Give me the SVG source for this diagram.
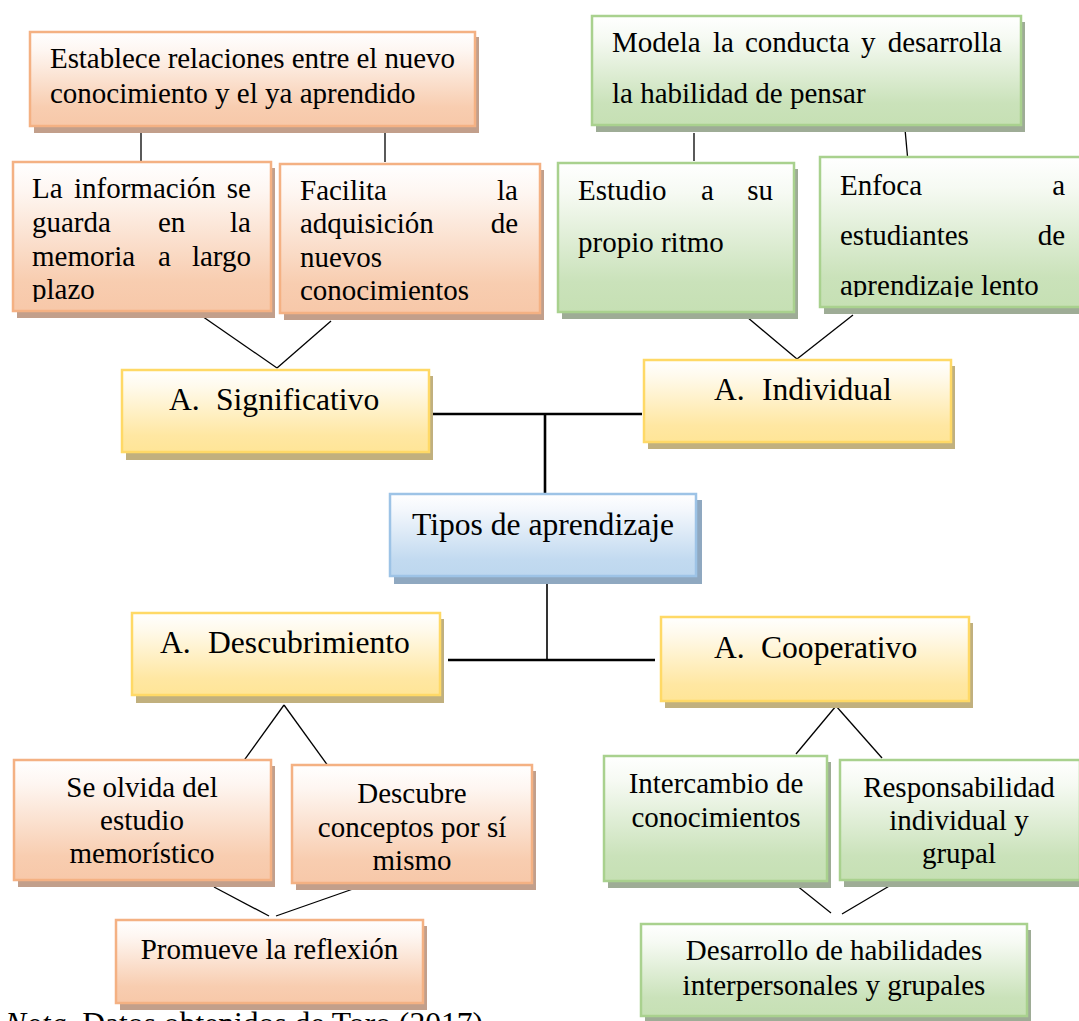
<svg xmlns="http://www.w3.org/2000/svg" width="1079" height="1021" viewBox="0 0 1079 1021">
<defs>
<linearGradient id="gOr" x1="0" y1="0" x2="0" y2="1"><stop offset="0" stop-color="#FFFFFF"/><stop offset="0.2" stop-color="#FEF6F1"/><stop offset="0.8" stop-color="#F8CDB0"/><stop offset="1" stop-color="#F7C8A9"/></linearGradient>
<linearGradient id="gGr" x1="0" y1="0" x2="0" y2="1"><stop offset="0" stop-color="#FFFFFF"/><stop offset="0.2" stop-color="#F6FAF3"/><stop offset="0.8" stop-color="#CAE2BA"/><stop offset="1" stop-color="#C6E0B4"/></linearGradient>
<linearGradient id="gYe" x1="0" y1="0" x2="0" y2="1"><stop offset="0" stop-color="#FFFFFF"/><stop offset="0.2" stop-color="#FFFAEC"/><stop offset="0.8" stop-color="#FFE7A2"/><stop offset="1" stop-color="#FFE597"/></linearGradient>
<linearGradient id="gBl" x1="0" y1="0" x2="0" y2="1"><stop offset="0" stop-color="#FFFFFF"/><stop offset="0.2" stop-color="#F3F7FC"/><stop offset="0.8" stop-color="#C2DAF0"/><stop offset="1" stop-color="#BDD7EE"/></linearGradient>
<clipPath id="clipInfo"><rect x="13" y="162" width="258" height="140"/></clipPath>
<clipPath id="clipEnfoca"><rect x="820" y="157" width="262" height="140"/></clipPath>
</defs>
<style>
.t{font-family:"Liberation Serif","Times New Roman",serif;font-size:29px;fill:#000}
.big{font-size:31.6px}
.c{text-anchor:middle}
.e{text-anchor:end}
.or{fill:url(#gOr);stroke:#F4B183;stroke-width:2.5}
.gr{fill:url(#gGr);stroke:#A9D18E;stroke-width:2.5}
.ye{fill:url(#gYe);stroke:#FFD966;stroke-width:2.5}
.bl{fill:url(#gBl);stroke:#9DC3E6;stroke-width:2.5}
.sor{fill:#C29F8B}
.sgr{fill:#9EAC96}
.sye{fill:#C1B07E}
.sbl{fill:#8FA8C0}
.ln{stroke:#000;stroke-width:1.3;fill:none}
.lt{stroke:#000;stroke-width:2.6;fill:none}
</style>

<g id="connectors">
<line class="ln" x1="141" y1="133" x2="141" y2="162"/>
<line class="ln" x1="385" y1="133" x2="385" y2="162"/>
<line class="ln" x1="199" y1="314" x2="277" y2="368"/>
<line class="ln" x1="331" y1="321" x2="277" y2="368"/>
<line class="ln" x1="694" y1="133" x2="694" y2="161"/>
<line class="ln" x1="905" y1="129" x2="908" y2="162"/>
<line class="ln" x1="747" y1="317" x2="797" y2="359"/>
<line class="ln" x1="853" y1="315" x2="797" y2="359"/>
<line class="ln" x1="240" y1="766" x2="284" y2="705"/>
<line class="ln" x1="331" y1="770" x2="284" y2="705"/>
<line class="ln" x1="214" y1="887" x2="269" y2="916"/>
<line class="ln" x1="353" y1="889" x2="276" y2="916"/>
<line class="ln" x1="796" y1="754" x2="836" y2="706"/>
<line class="ln" x1="882" y1="758" x2="836" y2="706"/>
<line class="ln" x1="796" y1="885" x2="831" y2="913"/>
<line class="ln" x1="891" y1="885" x2="842" y2="914"/>
<line class="lt" x1="433" y1="414" x2="642" y2="414"/>
<line class="lt" x1="545" y1="414" x2="545" y2="493"/>
<line class="ln" x1="547" y1="577" x2="547" y2="660" style="stroke-width:1.6"/>
<line class="lt" x1="448" y1="660" x2="655" y2="660"/>
</g>

<g id="n-establece">
<rect class="sor" x="34" y="37" width="445" height="96"/>
<rect class="or" x="30" y="32" width="445" height="94"/>
<text class="t" x="50" y="68" textLength="405">Establece relaciones entre el nuevo</text>
<text class="t" x="50" y="103">conocimiento y el ya aprendido</text>
</g>

<g id="n-informacion">
<rect class="sor" x="17" y="168" width="258" height="150"/>
<rect class="or" x="13" y="162" width="258" height="149"/>
<g clip-path="url(#clipInfo)">
<text class="t" y="198"><tspan x="32">La</tspan><tspan x="74">información</tspan><tspan x="251" text-anchor="end">se</tspan></text>
<text class="t" y="232"><tspan x="32">guarda</tspan><tspan x="158">en</tspan><tspan x="251" text-anchor="end">la</tspan></text>
<text class="t" y="266"><tspan x="32">memoria</tspan><tspan x="158">a</tspan><tspan x="251" text-anchor="end">largo</tspan></text>
<text class="t" x="32" y="299">plazo</text>
</g>
</g>

<g id="n-facilita">
<rect class="sor" x="284" y="170" width="260" height="150"/>
<rect class="or" x="280" y="164" width="260" height="149"/>
<text class="t" y="200"><tspan x="300">Facilita</tspan><tspan x="518" text-anchor="end">la</tspan></text>
<text class="t" y="233"><tspan x="300">adquisición</tspan><tspan x="518" text-anchor="end">de</tspan></text>
<text class="t" x="300" y="267">nuevos</text>
<text class="t" x="300" y="300">conocimientos</text>
</g>

<g id="n-modela">
<rect class="sgr" x="596" y="22" width="429" height="110"/>
<rect class="gr" x="592" y="16" width="429" height="109"/>
<text class="t" y="52"><tspan x="612">Modela</tspan><tspan x="713">la</tspan><tspan x="745">conducta</tspan><tspan x="861">y</tspan><tspan x="1002" text-anchor="end">desarrolla</tspan></text>
<text class="t" x="612" y="103">la habilidad de pensar</text>
</g>

<g id="n-estudio">
<rect class="sgr" x="562" y="169" width="236" height="150"/>
<rect class="gr" x="558" y="163" width="236" height="149"/>
<text class="t" y="200"><tspan x="578">Estudio</tspan><tspan x="701">a</tspan><tspan x="773" text-anchor="end">su</tspan></text>
<text class="t" x="578" y="252">propio ritmo</text>
</g>

<g id="n-enfoca">
<rect class="sgr" x="824" y="163" width="262" height="151"/>
<rect class="gr" x="820" y="157" width="262" height="150"/>
<g clip-path="url(#clipEnfoca)">
<text class="t" y="195"><tspan x="840">Enfoca</tspan><tspan x="1065" text-anchor="end">a</tspan></text>
<text class="t" y="245"><tspan x="840">estudiantes</tspan><tspan x="1065" text-anchor="end">de</tspan></text>
<text class="t" x="840" y="295">aprendizaje lento</text>
</g>
</g>

<g id="n-significativo">
<rect class="sye" x="126" y="376" width="307" height="84"/>
<rect class="ye" x="122" y="370" width="307" height="82"/>
<text class="t big" y="410"><tspan x="169">A.</tspan><tspan x="216">Significativo</tspan></text>
</g>

<g id="n-individual">
<rect class="sye" x="648" y="366" width="307" height="83"/>
<rect class="ye" x="644" y="360" width="307" height="82"/>
<text class="t big" y="400"><tspan x="714">A.</tspan><tspan x="762">Individual</tspan></text>
</g>

<g id="n-tipos">
<rect class="sbl" x="394" y="500" width="308" height="84"/>
<rect class="bl" x="390" y="494" width="306" height="82"/>
<text class="t big c" x="543" y="535">Tipos de aprendizaje</text>
</g>

<g id="n-descubrimiento">
<rect class="sye" x="136" y="619" width="308" height="84"/>
<rect class="ye" x="132" y="613" width="308" height="82"/>
<text class="t big" y="653"><tspan x="160">A.</tspan><tspan x="208">Descubrimiento</tspan></text>
</g>

<g id="n-cooperativo">
<rect class="sye" x="665" y="623" width="308" height="85"/>
<rect class="ye" x="661" y="617" width="308" height="84"/>
<text class="t big" y="658"><tspan x="714">A.</tspan><tspan x="761">Cooperativo</tspan></text>
</g>

<g id="n-seolvida">
<rect class="sor" x="18" y="766" width="257" height="121"/>
<rect class="or" x="14" y="760" width="257" height="120"/>
<text class="t c" x="142" y="797">Se olvida del</text>
<text class="t c" x="142" y="830">estudio</text>
<text class="t c" x="142" y="863">memorístico</text>
</g>

<g id="n-descubre">
<rect class="sor" x="296" y="771" width="240" height="119"/>
<rect class="or" x="292" y="765" width="240" height="118"/>
<text class="t c" x="412" y="803">Descubre</text>
<text class="t c" x="412" y="837">conceptos por sí</text>
<text class="t c" x="412" y="870">mismo</text>
</g>

<g id="n-promueve">
<rect class="sor" x="120" y="926" width="307" height="84"/>
<rect class="or" x="116" y="920" width="307" height="83"/>
<text class="t c" x="269.5" y="959">Promueve la reflexión</text>
</g>

<g id="n-intercambio">
<rect class="sgr" x="608" y="762" width="223" height="126"/>
<rect class="gr" x="604" y="756" width="223" height="125"/>
<text class="t c" x="716" y="793">Intercambio de</text>
<text class="t c" x="716" y="827">conocimientos</text>
</g>

<g id="n-responsabilidad">
<rect class="sgr" x="844" y="766" width="240" height="121"/>
<rect class="gr" x="840" y="760" width="240" height="120"/>
<text class="t c" x="959" y="797">Responsabilidad</text>
<text class="t c" x="959" y="830">individual y</text>
<text class="t c" x="959" y="863">grupal</text>
</g>

<g id="n-desarrollo">
<rect class="sgr" x="645" y="930" width="386" height="93"/>
<rect class="gr" x="641" y="924" width="386" height="92"/>
<text class="t c" x="834" y="960">Desarrollo de habilidades</text>
<text class="t c" x="834" y="995">interpersonales y grupales</text>
</g>

<text class="t big" x="5" y="1034"><tspan font-style="italic">Nota.</tspan> Datos obtenidos de Toro (2017)</text>
</svg>
